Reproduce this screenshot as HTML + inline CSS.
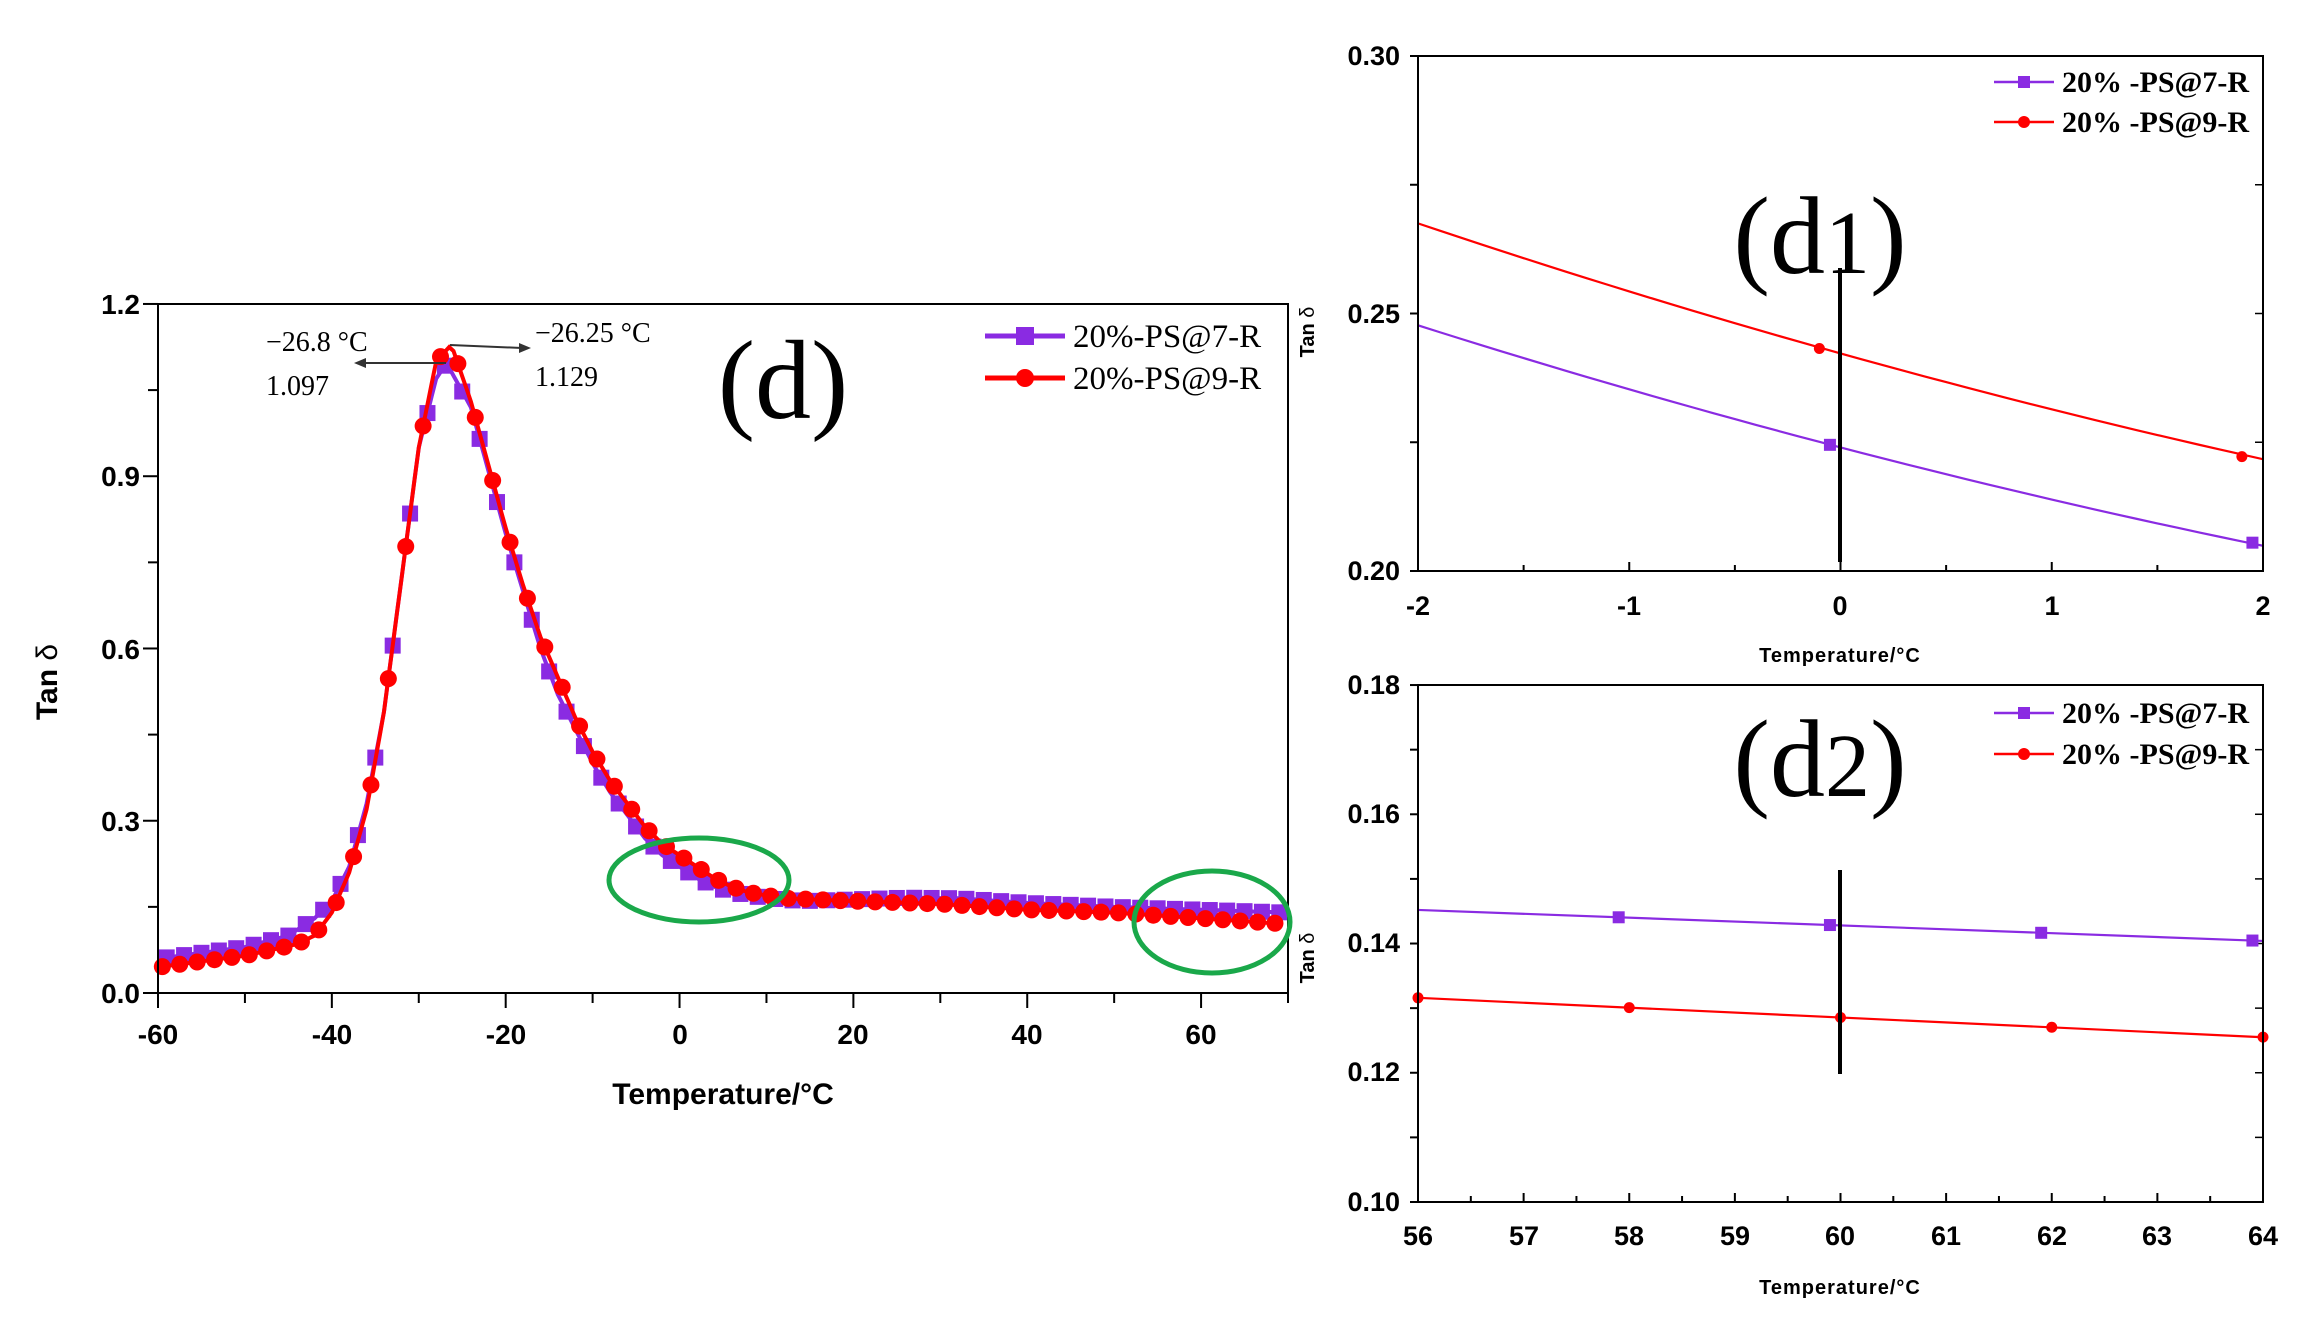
<!DOCTYPE html>
<html><head><meta charset="utf-8"><style>
html,body{margin:0;padding:0;background:#fff;}
svg{display:block;}
.ax{font-family:"Liberation Sans",sans-serif;font-weight:bold;}
.sr{font-family:"Liberation Serif",serif;}
</style></head><body>
<svg id="s" width="2300" height="1317" viewBox="0 0 2300 1317" xmlns="http://www.w3.org/2000/svg">
<defs>
<clipPath id="c1"><rect x="1418" y="56" width="845" height="515"/></clipPath>
<clipPath id="c2"><rect x="1418" y="685" width="845" height="517"/></clipPath>
</defs>
<rect width="2300" height="1317" fill="#fff"/>
<g id="g"></g>
<rect x="158" y="304" width="1130" height="689" fill="none" stroke="#000" stroke-width="2"/>
<g class="ax" font-size="28" text-anchor="middle">
<text x="158" y="1044">-60</text><text x="332" y="1044">-40</text><text x="506" y="1044">-20</text>
<text x="680" y="1044">0</text><text x="853" y="1044">20</text><text x="1027" y="1044">40</text><text x="1201" y="1044">60</text>
</g>
<g class="ax" font-size="28" text-anchor="end">
<text x="140" y="314">1.2</text><text x="140" y="486">0.9</text><text x="140" y="659">0.6</text>
<text x="140" y="831">0.3</text><text x="140" y="1003">0.0</text>
</g>
<text class="ax" x="723" y="1104" font-size="30" text-anchor="middle">Temperature/°C</text>
<text class="ax" font-size="30" text-anchor="middle" transform="translate(57,682) rotate(-90)">Tan <tspan font-weight="normal">δ</tspan></text>
<text class="sr" x="783" y="418" font-size="112" text-anchor="middle">(d)</text>
<g class="sr" font-size="28">
<text x="266" y="351">−26.8 °C</text><text x="266" y="395">1.097</text>
<text x="535" y="342">−26.25 °C</text><text x="535" y="386">1.129</text>
</g>
<line x1="446" y1="363" x2="362" y2="363" stroke="#333" stroke-width="2"/>
<polygon points="354,363 366,358 366,368" fill="#333"/>
<line x1="450" y1="345" x2="522" y2="348" stroke="#333" stroke-width="2"/>
<polygon points="531,348 519,343 519,353" fill="#333"/>
<line x1="985" y1="336" x2="1065" y2="336" stroke="#8a2be2" stroke-width="5"/>
<rect x="1016" y="327" width="18" height="18" fill="#8a2be2"/>
<text class="sr" x="1073" y="347" font-size="33">20%-PS@7-R</text>
<line x1="985" y1="378" x2="1065" y2="378" stroke="#f00" stroke-width="5"/>
<circle cx="1025" cy="378" r="9" fill="#f00"/>
<text class="sr" x="1073" y="389" font-size="33">20%-PS@9-R</text>
<ellipse cx="699" cy="880" rx="90" ry="42" fill="none" stroke="#1aa84a" stroke-width="5"/>
<ellipse cx="1212" cy="922" rx="78" ry="51" fill="none" stroke="#1aa84a" stroke-width="5"/>

<rect x="1418" y="56" width="845" height="515" fill="none" stroke="#000" stroke-width="2"/>
<g class="ax" font-size="27" text-anchor="end">
<text x="1400" y="65">0.30</text><text x="1400" y="323">0.25</text><text x="1400" y="580">0.20</text>
</g>
<g class="ax" font-size="27" text-anchor="middle">
<text x="1418" y="615">-2</text><text x="1629" y="615">-1</text><text x="1840" y="615">0</text><text x="2052" y="615">1</text><text x="2263" y="615">2</text>
</g>
<text class="ax" x="1840" y="662" font-size="20" text-anchor="middle" letter-spacing="1">Temperature/°C</text>
<text class="ax" font-size="20" text-anchor="middle" transform="translate(1314,332) rotate(-90)">Tan <tspan font-weight="normal">δ</tspan></text>
<text class="sr" x="1820" y="273" font-size="110" text-anchor="middle">(d<tspan font-size="90">1</tspan>)</text>
<line x1="1994" y1="82" x2="2054" y2="82" stroke="#8a2be2" stroke-width="2.5"/><rect x="2018" y="76" width="12" height="12" fill="#8a2be2"/>
<text class="sr" x="2062" y="92" font-size="30" font-weight="bold">20% -PS@7-R</text>
<line x1="1994" y1="122" x2="2054" y2="122" stroke="#f00" stroke-width="2.5"/><circle cx="2024" cy="122" r="6" fill="#f00"/>
<text class="sr" x="2062" y="132" font-size="30" font-weight="bold">20% -PS@9-R</text>

<rect x="1418" y="685" width="845" height="517" fill="none" stroke="#000" stroke-width="2"/>
<g class="ax" font-size="27" text-anchor="end">
<text x="1400" y="694">0.18</text><text x="1400" y="823">0.16</text><text x="1400" y="952">0.14</text><text x="1400" y="1081">0.12</text><text x="1400" y="1211">0.10</text>
</g>
<g class="ax" font-size="27" text-anchor="middle">
<text x="1418" y="1245">56</text><text x="1524" y="1245">57</text><text x="1629" y="1245">58</text><text x="1735" y="1245">59</text>
<text x="1840" y="1245">60</text><text x="1946" y="1245">61</text><text x="2052" y="1245">62</text><text x="2157" y="1245">63</text><text x="2263" y="1245">64</text>
</g>
<text class="ax" x="1840" y="1294" font-size="20" text-anchor="middle" letter-spacing="1">Temperature/°C</text>
<text class="ax" font-size="20" text-anchor="middle" transform="translate(1314,958) rotate(-90)">Tan <tspan font-weight="normal">δ</tspan></text>
<text class="sr" x="1820" y="796" font-size="110" text-anchor="middle">(d<tspan font-size="90">2</tspan>)</text>
<line x1="1994" y1="713" x2="2054" y2="713" stroke="#8a2be2" stroke-width="2.5"/><rect x="2018" y="707" width="12" height="12" fill="#8a2be2"/>
<text class="sr" x="2062" y="723" font-size="30" font-weight="bold">20% -PS@7-R</text>
<line x1="1994" y1="754" x2="2054" y2="754" stroke="#f00" stroke-width="2.5"/><circle cx="2024" cy="754" r="6" fill="#f00"/>
<text class="sr" x="2062" y="764" font-size="30" font-weight="bold">20% -PS@9-R</text>
</svg>
<script>
var NS="http://www.w3.org/2000/svg",g=document.getElementById('g');
function el(t,a){var e=document.createElementNS(NS,t);for(var k in a)e.setAttribute(k,a[k]);g.appendChild(e);return e;}
function interp(d,T){for(var i=0;i<d.length-1;i++){if(T>=d[i][0]&&T<=d[i+1][0]){var f=(T-d[i][0])/(d[i+1][0]-d[i][0]);return d[i][1]+f*(d[i+1][1]-d[i][1]);}}return d[d.length-1][1];}
var P=[[-60,0.06],[-50,0.08],[-45,0.10],[-42,0.13],[-40,0.16],[-38,0.22],[-36,0.33],[-34,0.49],[-32,0.72],[-30,0.95],[-28,1.07],[-26.8,1.097],[-24,1.02],[-22,0.91],[-20,0.80],[-18,0.70],[-16,0.60],[-14,0.52],[-12,0.46],[-10,0.40],[-8,0.35],[-6,0.31],[-4,0.27],[-2,0.24],[0,0.22],[2,0.20],[4,0.185],[6,0.175],[8,0.17],[10,0.165],[14,0.16],[20,0.163],[26,0.166],[32,0.165],[40,0.157],[50,0.15],[60,0.145],[70,0.14]];
var R=[[-60,0.045],[-50,0.065],[-44,0.085],[-42,0.10],[-40,0.14],[-38,0.21],[-36,0.32],[-34,0.49],[-32,0.72],[-30,0.95],[-28,1.10],[-26.25,1.129],[-24,1.03],[-22,0.92],[-20,0.81],[-18,0.71],[-16,0.62],[-14,0.55],[-12,0.48],[-10,0.42],[-8,0.37],[-6,0.33],[-4,0.29],[-2,0.26],[0,0.24],[2,0.22],[4,0.20],[6,0.185],[8,0.175],[10,0.17],[12,0.165],[20,0.16],[30,0.155],[40,0.145],[50,0.14],[60,0.13],[70,0.12]];
function X(T){return 158+(T+60)*1130/130;}function Y(v){return 993-v*574.2;}
function path(d){var s="";for(var T=-60;T<=69.01;T+=0.5){s+=(s?"L":"M")+X(T).toFixed(1)+","+Y(interp(d,T)).toFixed(1);}return s;}
el('path',{d:path(P),fill:'none',stroke:'#8a2be2','stroke-width':4});
for(var T=-59;T<=69;T+=2){var x=X(T),y=Y(interp(P,T));el('rect',{x:x-8,y:y-8,width:16,height:16,fill:'#8a2be2'});}
el('path',{d:path(R),fill:'none',stroke:'#f00','stroke-width':4});
for(var T=-59.5;T<=69;T+=2){var x=X(T),y=Y(interp(R,T));el('circle',{cx:x,cy:y,r:8.5,fill:'#f00'});}
for(var T=-60;T<=70;T+=10){el('line',{x1:X(T),x2:X(T),y1:993,y2:T%20==0?1008:1003,stroke:'#000','stroke-width':2});}
for(var v=0;v<=1.2001;v+=0.15){var y=Y(v);el('line',{x1:158,x2:Math.abs((v/0.3)-Math.round(v/0.3))<0.01?143:148,y1:y,y2:y,stroke:'#000','stroke-width':2});}
function X1(t){return 1418+(t+2)*845/4;}function Y1(v){return 571-(v-0.2)*5150;}
for(var t=-2;t<=2.001;t+=0.5){el('line',{x1:X1(t),x2:X1(t),y1:571,y2:Math.abs(t-Math.round(t))<0.01?562:565,stroke:'#000','stroke-width':2});}
for(var v=0.2;v<=0.3001;v+=0.025){el('line',{x1:1418,x2:1410,y1:Y1(v),y2:Y1(v),stroke:'#000','stroke-width':2});el('line',{x1:2263,x2:2255,y1:Y1(v),y2:Y1(v),stroke:'#000','stroke-width':1.5});}
var pr="",pp="";for(var t=-2;t<=2.001;t+=0.1){var u=t+2;pr+=(pr?"L":"M")+X1(t)+","+Y1(0.2675-0.0138*u+0.000588*u*u);pp+=(pp?"L":"M")+X1(t)+","+Y1(0.2477-0.0130*u+0.000575*u*u);}
el('path',{d:pr,fill:'none',stroke:'#f00','stroke-width':2.2,'clip-path':'url(#c1)'});el('path',{d:pp,fill:'none',stroke:'#8a2be2','stroke-width':2.2,'clip-path':'url(#c1)'});
el('circle',{cx:X1(-0.1),cy:Y1(0.2432),r:5.5,fill:'#f00'});el('circle',{cx:X1(1.9),cy:Y1(0.2222),r:5.5,fill:'#f00'});
el('rect',{x:X1(-0.05)-6,y:Y1(0.2245)-6,width:12,height:12,fill:'#8a2be2'});el('rect',{x:X1(1.95)-6,y:Y1(0.2055)-6,width:12,height:12,fill:'#8a2be2'});
el('line',{x1:1840,x2:1840,y1:268,y2:562,stroke:'#000','stroke-width':4});
function X2(t){return 1418+(t-56)*845/8;}function Y2(v){return 1202-(v-0.1)*6462;}
for(var t=56;t<=64;t+=0.5){el('line',{x1:X2(t),x2:X2(t),y1:1202,y2:t%1==0?1193:1196,stroke:'#000','stroke-width':2});}
for(var v=0.1;v<=0.1801;v+=0.01){el('line',{x1:1418,x2:1410,y1:Y2(v),y2:Y2(v),stroke:'#000','stroke-width':2});el('line',{x1:2263,x2:2255,y1:Y2(v),y2:Y2(v),stroke:'#000','stroke-width':1.5});}
el('line',{x1:X2(56),y1:Y2(0.1452),x2:X2(64),y2:Y2(0.1404),stroke:'#8a2be2','stroke-width':2.2});
el('line',{x1:X2(56),y1:Y2(0.1316),x2:X2(64),y2:Y2(0.1255),stroke:'#f00','stroke-width':2.2});
[57.9,59.9,61.9,63.9].forEach(function(t){var v=0.1452-(t-56)*0.0006;el('rect',{x:X2(t)-6,y:Y2(v)-6,width:12,height:12,fill:'#8a2be2'});});
[56,58,60,62,64].forEach(function(t){var v=0.1316-(t-56)*0.00076;el('circle',{cx:X2(t),cy:Y2(v),r:5.5,fill:'#f00'});});
el('line',{x1:1840,x2:1840,y1:870,y2:1074,stroke:'#000','stroke-width':4});
</script>
</body></html>
